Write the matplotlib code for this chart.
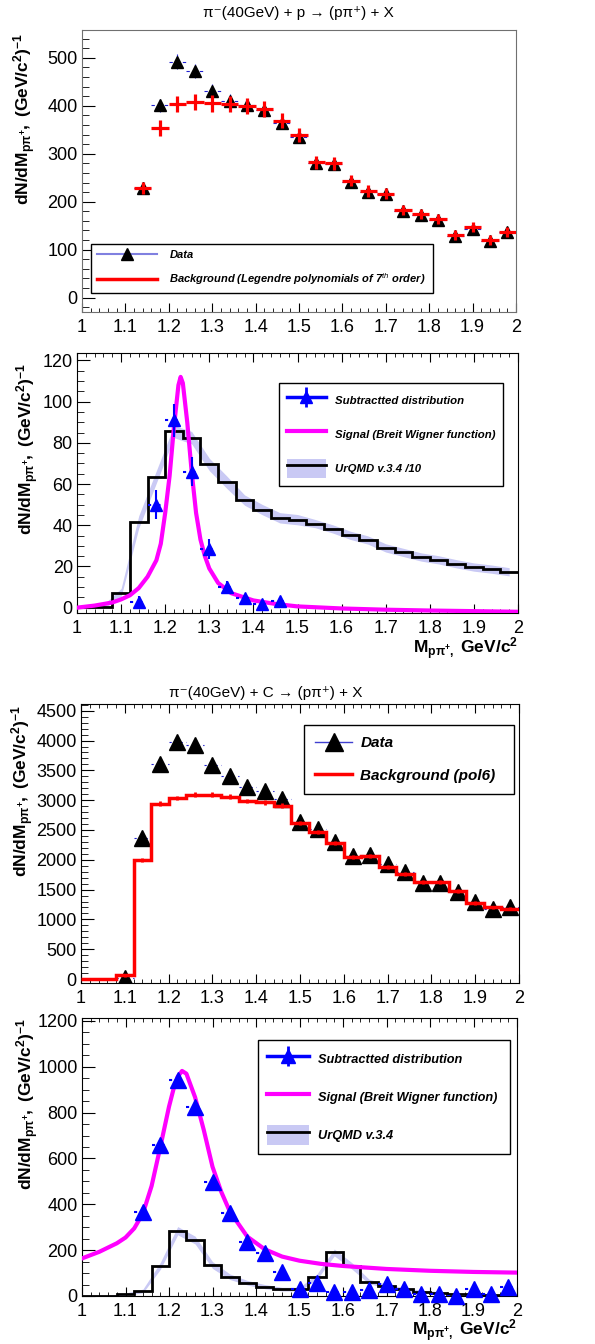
import matplotlib
matplotlib.use('Agg')
import matplotlib.pyplot as plt
import numpy as np
from matplotlib.lines import Line2D
from matplotlib.patches import Patch
from matplotlib.legend_handler import HandlerTuple
from matplotlib.ticker import MultipleLocator, FormatStrFormatter

plt.rcParams['font.family'] = ['Liberation Sans', 'DejaVu Sans']
plt.rcParams['mathtext.fontset'] = 'custom'
plt.rcParams['mathtext.rm'] = 'Liberation Sans'
plt.rcParams['mathtext.it'] = 'Liberation Sans:italic'
plt.rcParams['mathtext.bf'] = 'Liberation Sans:bold'

# --- data ---
# histogram bin edges, 0.04 GeV/c^2 bins
edges = [1.00, 1.04, 1.08, 1.12, 1.16, 1.20, 1.24, 1.28, 1.32, 1.36, 1.40, 1.44, 1.48,
         1.52, 1.56, 1.60, 1.64, 1.68, 1.72, 1.76, 1.80, 1.84, 1.88, 1.92, 1.96, 2.00]

# pi- + p
mass_p = [1.14, 1.18, 1.22, 1.26, 1.30, 1.34, 1.38, 1.42, 1.46, 1.50, 1.54,
          1.58, 1.62, 1.66, 1.70, 1.74, 1.78, 1.82, 1.86, 1.90, 1.94, 1.98]
data_p = [229, 401, 492, 473, 431, 410, 401, 391, 365, 335, 280,
          278, 242, 221, 216, 181, 172, 162, 129, 144, 119, 137]
data_p_err = [12, 14, 16, 15, 14, 14, 14, 13, 13, 12, 11, 11, 10, 10, 10, 9, 9, 9, 8, 8, 8, 8]
bkg_p = [229, 354, 403, 408, 405, 403, 399, 393, 369, 339, 282,
         280, 244, 222, 217, 183, 174, 164, 131, 147, 120, 137]
bkg_p_err = [13, 17, 17, 17, 17, 17, 17, 16, 16, 15, 13, 13, 12, 12, 12, 11, 11, 11, 10, 10, 10, 10]

sub_p_x = [1.14, 1.18, 1.22, 1.26, 1.30, 1.34, 1.38, 1.42, 1.46]
sub_p = [2.5, 50, 91, 66, 28.5, 10, 4.5, 1.8, 3]
sub_p_err = [3, 7, 8, 7, 5, 3, 2, 2, 2]

sig_p_x = [1.00, 1.04, 1.08, 1.10, 1.12, 1.14, 1.16, 1.18, 1.19, 1.20, 1.21, 1.22, 1.23,
           1.235, 1.24, 1.25, 1.26, 1.27, 1.28, 1.29, 1.30, 1.32, 1.35, 1.40, 1.45, 1.50,
           1.60, 1.70, 1.80, 1.90, 2.00]
sig_p = [0.0, 1.0, 2.5, 4, 6, 9.5, 15, 23, 31, 46, 64, 88, 108,
         112, 109, 90, 66, 46, 33, 25, 19, 12, 7, 3.5, 1.8, 0.6,
         -0.4, -1.0, -1.4, -1.7, -2.0]

urqmd_p = [0.5, 0.5, 7.3, 41.6, 63.5, 85.5, 82.5, 69.5, 60.8, 52.2, 47.6, 43.6, 42.7,
           40.8, 38.2, 35.1, 32.8, 29.0, 26.8, 24.6, 23.2, 21.3, 19.7, 18.7, 17.4]
urqmd_p_err = [1, 1, 2, 3, 3, 3, 3, 3, 3, 2.5, 2.5, 2.5, 2.5,
               2, 2, 2, 2, 2, 2, 2, 2, 2, 2, 2, 2]

# pi- + C
mass_c = [1.10, 1.14, 1.18, 1.22, 1.26, 1.30, 1.34, 1.38, 1.42, 1.46, 1.50, 1.54,
          1.58, 1.62, 1.66, 1.70, 1.74, 1.78, 1.82, 1.86, 1.90, 1.94, 1.98]
data_c = [10, 2360, 3600, 3980, 3930, 3590, 3400, 3220, 3150, 3020, 2630, 2520,
          2300, 2060, 2085, 1935, 1795, 1617, 1617, 1461, 1294, 1182, 1210]
bkg_c = [0, 0, 60, 2000, 2940, 3035, 3090, 3090, 3060, 2985, 2965, 2905, 2615,
         2460, 2285, 2045, 2065, 1880, 1760, 1625, 1625, 1475, 1275, 1200, 1180]
bkg_c_err = [0, 0, 20, 35, 40, 40, 40, 40, 40, 40, 40, 40, 35,
             35, 35, 35, 35, 35, 35, 30, 30, 30, 30, 30, 30]

sub_c = [368, 659, 943, 826, 499, 364, 234, 186, 106, 29, 58,
         19, 19, 26, 52, 32, 9, 9, 1.5, 29, 9, 41]
sub_c_err = [20, 22, 25, 24, 20, 18, 16, 15, 13, 12, 12, 11, 11, 11, 10, 10, 9, 9, 9, 9, 9, 9]

sig_c_x = [1.00, 1.04, 1.08, 1.10, 1.12, 1.14, 1.16, 1.18, 1.20, 1.21, 1.22, 1.23, 1.24,
           1.26, 1.28, 1.30, 1.32, 1.34, 1.38, 1.42, 1.46, 1.50, 1.55, 1.60, 1.70, 1.80,
           1.90, 2.00]
sig_c = [164, 193, 230, 255, 295, 360, 480, 650, 826, 900, 957, 982, 970,
         867, 724, 564, 455, 368, 259, 204, 172, 154, 140, 131, 118, 110,
         105, 102]

urqmd_c = [0, 0, 8, 22, 131, 285, 244, 135, 84, 58, 41, 30, 30,
           84, 190, 132, 63, 44, 29, 19, 14.5, 9, 7, 3, 2]
urqmd_c_err = [2, 2, 5, 8, 15, 18, 17, 15, 12, 10, 9, 8, 8,
               12, 15, 14, 10, 8, 7, 6, 5, 4, 4, 3, 3]

centers = (np.array(edges[:-1]) + np.array(edges[1:])) / 2
BAND = '#c9c9f4'
ERRBLUE = '#2020d0'

ylab = r'$\mathbf{dN/dM_{p\pi^{+}},\ (GeV/c^{2})^{-1}}$'
xlab = r'$\mathbf{M_{p\pi^{+},}}$ GeV/c$^{\mathbf{2}}$'
legfont = lambda s: {'family': ['Liberation Sans', 'DejaVu Sans'], 'weight': 'bold',
                     'style': 'italic', 'size': s}


def frame(ax, ylim, ymaj, ymin, top):
    ax.set_xlim(1.0, 2.0)
    ax.set_ylim(*ylim)
    ax.xaxis.set_major_locator(MultipleLocator(0.1))
    ax.xaxis.set_minor_locator(MultipleLocator(0.02))
    ax.xaxis.set_major_formatter(FormatStrFormatter('%g'))
    ax.yaxis.set_major_locator(MultipleLocator(ymaj))
    ax.yaxis.set_minor_locator(MultipleLocator(ymin))
    ax.tick_params(axis='x', which='both', direction='in', top=top, bottom=True,
                   labelsize=13, pad=5)
    ax.tick_params(axis='x', which='major', length=6.5)
    ax.tick_params(axis='x', which='minor', length=3.2)
    ax.tick_params(axis='y', which='both', direction='in', left=True, right=False,
                   labelsize=13, pad=3)
    ax.tick_params(axis='y', which='major', length=9.5)
    ax.tick_params(axis='y', which='minor', length=4.7)


W, H = 595, 1344
fig = plt.figure(figsize=(W / 100, H / 100), dpi=100)


def axes_px(l, r, t, b):
    return fig.add_axes([l / W, 1 - b / H, (r - l) / W, (b - t) / H])


# ---------------- panel 1: pi- p, data + background ----------------
ax1 = axes_px(82, 516, 30, 312)
frame(ax1, (-30, 558), 100, 20, False)
for sp in ax1.spines.values():
    sp.set_color('#707070')
ax1.hlines(data_p, np.array(mass_p) - 0.02, np.array(mass_p) + 0.02, colors=ERRBLUE,
           linestyles=(0, (3, 3)), lw=0.8, zorder=2)
ax1.vlines(mass_p, np.array(data_p) - np.array(data_p_err), np.array(data_p) + np.array(data_p_err),
           colors=ERRBLUE, lw=0.8, zorder=2)
ax1.plot(mass_p, data_p, ls='none', marker='^', ms=8.5, color='black', zorder=3)
ax1.errorbar(mass_p, bkg_p, xerr=0.02, yerr=bkg_p_err, fmt='none', ecolor='red',
             elinewidth=2.3, capsize=0, zorder=4)
ax1.set_ylabel(ylab, fontsize=12.5, ha='right', va='center')
ax1.yaxis.set_label_coords(-0.131, 0.989)
fig.text(298 / W, 1 - 13 / H, 'π⁻(40GeV) + p → (pπ⁺) + X',
         ha='center', va='center', fontsize=11)
h_data = Line2D([], [], color='#8080e0', lw=1.5, marker='^', ms=9, mfc='black', mec='black')
h_bkg = Line2D([], [], color='red', lw=2.5)
ax1.legend([h_data, h_bkg], ['Data', 'Background (Legendre polynomials of 7$^{th}$ order)'],
           loc='upper left', bbox_to_anchor=(0.0207, 0.0, 0.788, 0.241), mode='expand',
           prop=legfont(8.0), handlelength=5.4, handletextpad=1.1, borderpad=0.55,
           labelspacing=1.0, fancybox=False, framealpha=1, edgecolor='black',
           borderaxespad=0)

# ---------------- panel 2: pi- p, subtracted ----------------
ax2 = axes_px(77, 518, 353, 613)
frame(ax2, (-2.6, 123.6), 20, 5, True)
lo = np.array(urqmd_p) - np.array(urqmd_p_err)
hi = np.array(urqmd_p) + np.array(urqmd_p_err)
ax2.fill_between(centers, lo, hi, color=BAND, lw=0, zorder=1)
ax2.stairs(urqmd_p, edges, color='black', lw=2, baseline=None, zorder=2)
ax2.plot(sig_p_x, sig_p, color='#ff00ff', lw=3, zorder=3)
ax2.hlines(sub_p, np.array(sub_p_x) - 0.02, np.array(sub_p_x) + 0.02, colors='blue',
           linestyles=(0, (1.5, 3)), lw=1.5, zorder=4)
ax2.vlines(sub_p_x, np.array(sub_p) - np.array(sub_p_err), np.array(sub_p) + np.array(sub_p_err),
           colors='blue', lw=1.5, zorder=4)
ax2.plot(sub_p_x, sub_p, ls='none', marker='^', ms=9, color='blue', zorder=5)
ax2.set_ylabel(ylab, fontsize=12.5, ha='right', va='center')
ax2.yaxis.set_label_coords(-0.111, 0.962)
ax2.set_xlabel(xlab, fontsize=12.5, fontweight='bold', ha='right', va='top')
ax2.xaxis.set_label_coords(1.0, -0.088)

h_sub = (Line2D([], [], color='blue', lw=2.5),
         Line2D([], [], ls='none', marker='|', ms=14, mew=2, color='blue'),
         Line2D([], [], ls='none', marker='^', ms=9, color='blue'))
h_sig = Line2D([], [], color='#ff00ff', lw=3)
h_urq = (Patch(facecolor=BAND, edgecolor='none'), Line2D([], [], color='black', lw=2))
ax2.legend([h_sub, h_sig, h_urq],
           ['Subtractted distribution', 'Signal (Breit Wigner function)', 'UrQMD v.3.4 /10'],
           handler_map={tuple: HandlerTuple(ndivide=1)},
           loc='upper left', bbox_to_anchor=(0.458, 0.0, 0.508, 0.885), mode='expand',
           prop=legfont(8.2), handlelength=3.4, handleheight=2.2, handletextpad=0.8,
           borderpad=0.7, labelspacing=1.3, fancybox=False, framealpha=1,
           edgecolor='black', borderaxespad=0)

# ---------------- panel 3: pi- C, data + background ----------------
ax3 = axes_px(81, 519, 704, 983)
frame(ax3, (-67, 4613), 500, 100, True)
ax3.hlines(data_c, np.array(mass_c) - 0.02, np.array(mass_c) + 0.02, colors=ERRBLUE,
           linestyles=(0, (2, 3)), lw=0.8, zorder=2)
ax3.plot(mass_c, data_c, ls='none', marker='^', ms=11, color='black', zorder=3)
ax3.stairs(bkg_c, edges, color='red', lw=2.5, baseline=None, zorder=4)
ax3.errorbar(centers, bkg_c, yerr=bkg_c_err, fmt='none', ecolor='red', elinewidth=2,
             capsize=0, zorder=4)
ax3.set_ylabel(ylab, fontsize=12.5, ha='right', va='center')
ax3.yaxis.set_label_coords(-0.132, 0.996)
fig.text(266 / W, 1 - 693 / H, 'π⁻(40GeV) + C → (pπ⁺) + X',
         ha='center', va='center', fontsize=11)
h_data3 = Line2D([], [], color='#4040d0', lw=1, marker='^', ms=13, mfc='black', mec='black')
h_bkg3 = Line2D([], [], color='red', lw=2.5)
ax3.legend([h_data3, h_bkg3], ['Data', 'Background (pol6)'],
           loc='upper left', bbox_to_anchor=(0.509, 0.0, 0.4796, 0.925), mode='expand',
           prop=legfont(11), handlelength=2.4, handletextpad=0.55, borderpad=0.75,
           labelspacing=1.2, fancybox=False, framealpha=1, edgecolor='black',
           borderaxespad=0)

# ---------------- panel 4: pi- C, subtracted ----------------
ax4 = axes_px(82, 517, 1018, 1296)
frame(ax4, (0, 1213), 200, 50, True)
lo = np.array(urqmd_c) - np.array(urqmd_c_err)
hi = np.array(urqmd_c) + np.array(urqmd_c_err)
ax4.fill_between(centers, lo, hi, color=BAND, lw=0, zorder=1)
ax4.stairs(urqmd_c, edges, color='black', lw=2, baseline=None, zorder=2)
ax4.plot(sig_c_x, sig_c, color='#ff00ff', lw=3, zorder=3)
ax4.hlines(sub_c, np.array(mass_p) - 0.02, np.array(mass_p) + 0.02, colors='blue',
           linestyles=(0, (1.5, 3)), lw=1.5, zorder=4)
ax4.vlines(mass_p, np.array(sub_c) - np.array(sub_c_err), np.array(sub_c) + np.array(sub_c_err),
           colors='blue', lw=1.5, zorder=4)
ax4.plot(mass_p, sub_c, ls='none', marker='^', ms=11, color='blue', zorder=5, clip_on=False)
ax4.set_ylabel(ylab, fontsize=12.5, ha='right', va='center')
ax4.yaxis.set_label_coords(-0.124, 1.0)
ax4.set_xlabel(xlab, fontsize=12.5, fontweight='bold', ha='right', va='top')
ax4.xaxis.set_label_coords(1.0, -0.079)
h_sub4 = (Line2D([], [], color='blue', lw=2.5),
          Line2D([], [], ls='none', marker='|', ms=15, mew=2, color='blue'),
          Line2D([], [], ls='none', marker='^', ms=10, color='blue'))
h_urq4 = (Patch(facecolor=BAND, edgecolor='none'), Line2D([], [], color='black', lw=2))
ax4.legend([h_sub4, h_sig, h_urq4],
           ['Subtractted distribution', 'Signal (Breit Wigner function)', 'UrQMD v.3.4'],
           handler_map={tuple: HandlerTuple(ndivide=1)},
           loc='upper left', bbox_to_anchor=(0.4046, 0.0, 0.5794, 0.921), mode='expand',
           prop=legfont(9.2), handlelength=3.3, handleheight=2.0, handletextpad=0.68,
           borderpad=0.7, labelspacing=1.45, fancybox=False, framealpha=1,
           edgecolor='black', borderaxespad=0)

fig.savefig('out.png', dpi=100)
